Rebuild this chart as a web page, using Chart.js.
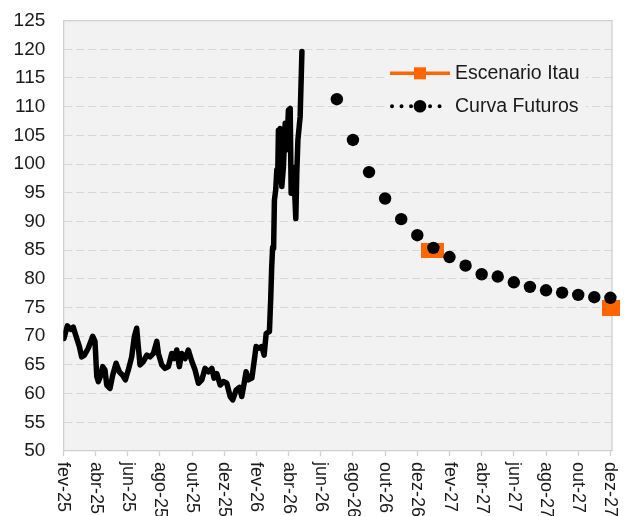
<!DOCTYPE html>
<html>
<head>
<meta charset="utf-8">
<script src="https://cdn.jsdelivr.net/npm/chart.js@4/dist/chart.umd.min.js"></script>
<style>
html,body{margin:0;padding:0;background:#fff;}
#wrap{width:630px;height:516px;position:relative;}
</style>
</head>
<body>
<div id="wrap"><canvas id="c"></canvas></div>
<script>
// ---- data (x = months since fev-25) ----
const xTickLabels = ["fev-25","abr-25","jun-25","ago-25","out-25","dez-25","fev-26","abr-26","jun-26","ago-26","out-26","dez-26","fev-27","abr-27","jun-27","ago-27","out-27","dez-27"];
const xTickMonths = [0,2,4,6,8,10,12,14,16,18,20,22,24,26,28,30,32,34];

const spotMonths = [0.04,0.25,0.46,0.62,0.79,1.00,1.14,1.31,1.55,1.83,1.97,2.08,2.18,2.33,2.45,2.59,2.70,2.90,3.07,3.28,3.48,3.69,3.86,4.04,4.25,4.42,4.56,4.66,4.77,4.98,5.19,5.39,5.60,5.81,5.91,6.12,6.32,6.53,6.74,6.90,7.05,7.21,7.36,7.57,7.77,7.99,8.19,8.40,8.61,8.81,9.02,9.23,9.37,9.54,9.75,9.95,10.16,10.37,10.53,10.74,10.95,11.09,11.24,11.36,11.50,11.72,11.86,11.98,12.13,12.34,12.48,12.61,12.81,12.89,12.95,13.01,13.07,13.12,13.20,13.27,13.32,13.37,13.42,13.48,13.53,13.58,13.68,13.79,13.89,13.99,14.10,14.16,14.24,14.37,14.45,14.51,14.58,14.72,14.83];
const spotValues = [69.6,71.8,71.2,71.6,70.0,68.2,66.4,66.7,67.9,70.0,69.1,63.0,62.1,63.2,64.7,64.1,61.5,60.9,63.2,65.3,63.8,63.2,62.4,64.1,66.4,70.0,71.4,68.2,65.0,65.6,66.7,66.4,67.0,69.1,67.0,65.0,64.4,64.7,67.0,66.1,67.6,64.7,67.0,66.1,67.6,65.6,64.1,61.8,62.4,64.4,63.8,64.4,62.7,63.5,61.5,62.1,61.8,59.5,58.9,60.6,61.1,59.5,61.8,63.8,62.4,62.7,65.6,68.2,67.9,68.2,66.7,70.5,70.8,76.5,82.0,85.5,85.3,93.7,95.5,99.0,97.0,105.9,97.5,106.2,104.0,96.1,99.5,107.1,102.5,109.4,109.7,94.9,99.5,95.5,90.5,98.4,104.2,108.3,119.6];

const futuresMonths = [17,18,19,20,21,22,23,24,25,26,27,28,29,30,31,32,33,34];
const futuresValues = [111.3,104.2,98.6,94.0,90.4,87.6,85.4,83.8,82.3,80.8,80.4,79.4,78.6,78.0,77.6,77.2,76.8,76.7];

const itauMonths = [22.95,34.05];
const itauValues = [85.0,75.0];

const legendLabels = ["Escenario Itau","Curva Futuros"];

// ---- styles ----
const ORANGE = '#FF6600';
const FONT = '"Liberation Sans", Arial, sans-serif';
const TEXT = '#1a1a1a';
const GRID = '#d6d6d6';

function makeRect(w, h, color){
  const cv = document.createElement('canvas');
  cv.width = w; cv.height = h;
  const g = cv.getContext('2d');
  g.fillStyle = color; g.fillRect(0,0,w,h);
  return cv;
}
const itauMarkers = [makeRect(23,15,ORANGE), makeRect(18,16,ORANGE)];

const bgPlugin = {
  id:'bg',
  beforeDraw(chart){
    const c = chart.ctx, a = chart.chartArea;
    c.save();
    c.fillStyle = '#fff';
    c.fillRect(0,0,chart.width,chart.height);
    c.fillStyle = '#f2f2f2';
    c.fillRect(a.left,a.top,a.right-a.left,a.bottom-a.top);
    c.restore();
  },
  beforeDatasetsDraw(chart){
    const c = chart.ctx, a = chart.chartArea;
    c.save();
    c.strokeStyle = '#d0d0d0';
    c.lineWidth = 1.3;
    c.beginPath();
    c.moveTo(a.left, a.top); c.lineTo(a.right, a.top); c.lineTo(a.right, a.bottom);
    c.stroke();
    // legend background
    c.fillStyle = '#f2f2f2';
    c.fillRect(387, 58, 199, 62);
    c.restore();
  }
};

const xLabelPlugin = {
  id:'xLabels',
  afterDraw(chart){
    const s = chart.scales.x, c = chart.ctx;
    c.save();
    c.font = '18px ' + FONT;
    c.fillStyle = TEXT;
    c.textAlign = 'left';
    c.textBaseline = 'middle';
    s.ticks.forEach((t,i)=>{
      const x = s.getPixelForValue(t.value);
      c.save();
      c.translate(x, s.top + 11);
      c.rotate(Math.PI/2);
      c.fillText(xTickLabels[i], 0, 0);
      c.restore();
    });
    c.restore();
  }
};

const legendPlugin = {
  id:'customLegend',
  afterDatasetsDraw(chart){
    const c = chart.ctx;
    c.save();
    // Escenario Itau: line + square
    c.strokeStyle = ORANGE; c.lineWidth = 3.5; c.lineCap = 'butt';
    c.beginPath(); c.moveTo(390, 73.3); c.lineTo(450, 73.3); c.stroke();
    c.fillStyle = ORANGE; c.fillRect(414, 67.3, 12, 12);
    // Curva Futuros: dotted line + dot
    c.strokeStyle = '#000'; c.lineWidth = 4; c.lineCap = 'round';
    c.setLineDash([0.01, 9.5]);
    c.beginPath(); c.moveTo(392, 106.3); c.lineTo(446, 106.3); c.stroke();
    c.setLineDash([]);
    c.fillStyle = '#000';
    c.beginPath(); c.arc(420, 106.3, 6.3, 0, Math.PI*2); c.fill();
    // texts
    c.font = '19.5px ' + FONT;
    c.fillStyle = TEXT;
    c.textAlign = 'left'; c.textBaseline = 'alphabetic';
    c.fillText(legendLabels[0], 455, 79);
    c.fillText(legendLabels[1], 455, 112.3);
    c.restore();
  }
};

new Chart(document.getElementById('c'), {
  type: 'line',
  data: {
    datasets: [
      {
        label: 'Spot',
        data: spotMonths.map((m,i)=>({x:m, y:spotValues[i]})),
        borderColor: '#000',
        borderWidth: 5.5,
        pointRadius: 0,
        tension: 0,
        borderJoinStyle: 'round',
        borderCapStyle: 'round',
        order: 0
      },
      {
        label: legendLabels[1],
        data: futuresMonths.map((m,i)=>({x:m, y:futuresValues[i]})),
        showLine: false,
        pointRadius: 6.2,
        pointBorderWidth: 0,
        pointBackgroundColor: '#000',
        borderColor: '#000',
        clip: false,
        order: 1
      },
      {
        label: legendLabels[0],
        data: itauMonths.map((m,i)=>({x:m, y:itauValues[i]})),
        showLine: false,
        pointStyle: itauMarkers,
        pointRadius: 8,
        pointBorderWidth: 0,
        backgroundColor: ORANGE,
        borderColor: ORANGE,
        clip: false,
        order: 2
      }
    ]
  },
  options: {
    responsive: true,
    maintainAspectRatio: false,
    animation: false,
    events: [],
    layout: { padding: { left: 0, right: 18, top: 20.6, bottom: 0 } },
    plugins: { legend: { display: false }, tooltip: { enabled: false } },
    scales: {
      x: {
        type: 'linear',
        min: 0,
        max: 34.1,
        afterBuildTicks: s => { s.ticks = xTickMonths.map(v => ({ value: v })); },
        ticks: { display: false },
        grid: { drawOnChartArea: false, drawTicks: true, tickLength: 5, tickColor: '#d0d0d0', tickWidth: 1.3 },
        border: { display: true, color: '#d0d0d0', width: 1.3 },
        afterFit: s => { s.height = 65; s.paddingLeft = 0; s.paddingRight = 0; }
      },
      y: {
        min: 50,
        max: 125,
        ticks: { stepSize: 5, font: { family: FONT, size: 19 }, color: TEXT, padding: 18 },
        grid: {
          drawTicks: false,
          lineWidth: 1,
          color: c => (c.tick && (c.tick.value === 50 || c.tick.value === 125)) ? 'rgba(0,0,0,0)' : GRID
        },
        border: { display: true, color: '#d0d0d0', width: 1.3, dash: [8, 4] },
        afterFit: s => { s.width = 63.3; s.paddingTop = 0; s.paddingBottom = 0; }
      }
    }
  },
  plugins: [bgPlugin, xLabelPlugin, legendPlugin]
});
</script>
</body>
</html>
